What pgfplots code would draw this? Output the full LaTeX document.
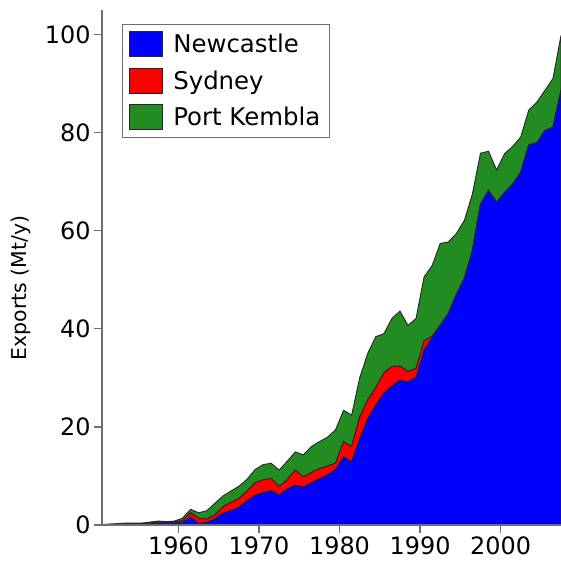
\documentclass[border=0pt]{standalone}
\usepackage{pgfplots}
\usepackage{pgfplotstable}
\pgfplotsset{compat=1.18}
\usepackage{fontspec}
\setmainfont{DejaVu Sans}

\definecolor{ncblue}{RGB}{0,0,255}
\definecolor{syred}{RGB}{255,0,0}
\definecolor{pkgreen}{RGB}{34,139,34}
\definecolor{axisgray}{RGB}{110,110,110}

% Coal exports by port (Mt per year), financial years plotted at mid-year
\pgfplotstableread{
year   newcastle sydney portkembla
1950.5 0.0  0.0 0.1
1951.5 0.1  0.0 0.1
1952.5 0.1  0.1 0.1
1953.5 0.2  0.1 0.1
1954.5 0.2  0.1 0.1
1955.5 0.2  0.1 0.1
1956.5 0.3  0.2 0.1
1957.5 0.4  0.3 0.1
1958.5 0.4  0.2 0.1
1959.5 0.4  0.2 0.2
1960.5 0.5  0.4 0.5
1961.5 1.6  0.9 0.7
1962.5 0.3  1.1 1.1
1963.5 0.5  0.7 1.7
1964.5 1.2  0.8 2.4
1965.5 2.4  1.3 2.2
1966.5 2.9  1.7 2.3
1967.5 3.6  1.8 2.5
1968.5 4.9  2.0 2.4
1969.5 6.0  2.6 2.7
1970.5 6.6  2.6 3.1
1971.5 7.0  2.5 3.1
1972.5 6.1  1.8 3.3
1973.5 7.3  1.9 3.8
1974.5 8.1  3.1 3.7
1975.5 7.7  2.1 4.5
1976.5 8.6  2.1 5.3
1977.5 9.4  2.1 5.5
1978.5 10.2 1.8 5.9
1979.5 11.3 1.3 6.8
1980.5 13.9 3.1 6.4
1981.5 12.9 3.1 6.4
1982.5 17.5 4.5 8.0
1983.5 21.6 3.9 9.5
1984.5 24.4 3.6 10.4
1985.5 26.8 4.2 8.0
1986.5 28.3 4.0 9.8
1987.5 29.5 2.9 11.2
1988.5 29.2 2.1 9.4
1989.5 30.1 1.8 10.2
1990.5 35.6 1.9 13.1
1991.5 38.2 0.3 14.4
1992.5 40.7 0.0 16.7
1993.5 43.1 0.0 14.6
1994.5 47.0 0.0 12.4
1995.5 50.3 0.0 11.8
1996.5 56.0 0.0 11.5
1997.5 65.4 0.0 10.4
1998.5 68.2 0.0 8.0
1999.5 65.8 0.0 6.6
2000.5 67.8 0.0 7.9
2001.5 69.5 0.0 7.7
2002.5 71.9 0.0 7.2
2003.5 77.5 0.0 7.1
2004.5 77.9 0.0 8.3
2005.5 80.4 0.0 8.2
2006.5 81.1 0.0 9.9
2007.5 88.6 0.0 11.2
}\exports

\begin{document}
\begin{tikzpicture}
\begin{axis}[
  name=ax, at={(0,0)}, anchor=south west,
  scale only axis, width=459bp, height=515bp,
  xmin=1950.5, xmax=2007.5, ymin=0, ymax=105,
  axis x line*=bottom, axis y line*=left,
  axis on top,
  axis line style={axisgray, line width=1.3bp},
  tick style={axisgray, line width=1.3bp},
  tick align=outside, major tick length=8bp,
  xtick={1960,1970,...,2000}, ytick={0,20,...,100},
  minor tick num=0,
  x tick label style={/pgf/number format/1000 sep={}},
  /pgf/number format/assume math mode=true,
  tick label style={font=\fontsize{24}{28}\selectfont, black},
  ylabel={Exports (Mt/y)},
  ylabel style={at={(axis description cs:-0.176,0.46)}, anchor=center,
    font=\fontsize{20.5}{24}\selectfont},
  stack plots=y,
  legend cell align=left,
  legend image code/.code={\draw[#1] (0bp,-12.5bp) rectangle (33bp,12.5bp);},
  legend style={at={(0.0436,0.9728)}, anchor=north west,
    draw=axisgray, line width=0.8bp,
    font=\fontsize{24.5}{28}\selectfont,
    inner xsep=7bp, inner ysep=7bp, row sep=10.5bp,
    /tikz/every odd column/.append style={column sep=8bp}},
]
\addplot[fill=ncblue, draw=black!85, line width=0.9bp]
  table[x=year, y=newcastle]{\exports} \closedcycle;
\addplot[fill=syred, draw=black!85, line width=0.9bp]
  table[x=year, y=sydney]{\exports} \closedcycle;
\addplot[fill=pkgreen, draw=black!85, line width=0.9bp]
  table[x=year, y=portkembla]{\exports} \closedcycle;
\legend{Newcastle, Sydney, Port Kembla}
\end{axis}
\pgfresetboundingbox
\path[use as bounding box] (-102bp,-39bp) rectangle (459bp,525bp);
\end{tikzpicture}
\end{document}
